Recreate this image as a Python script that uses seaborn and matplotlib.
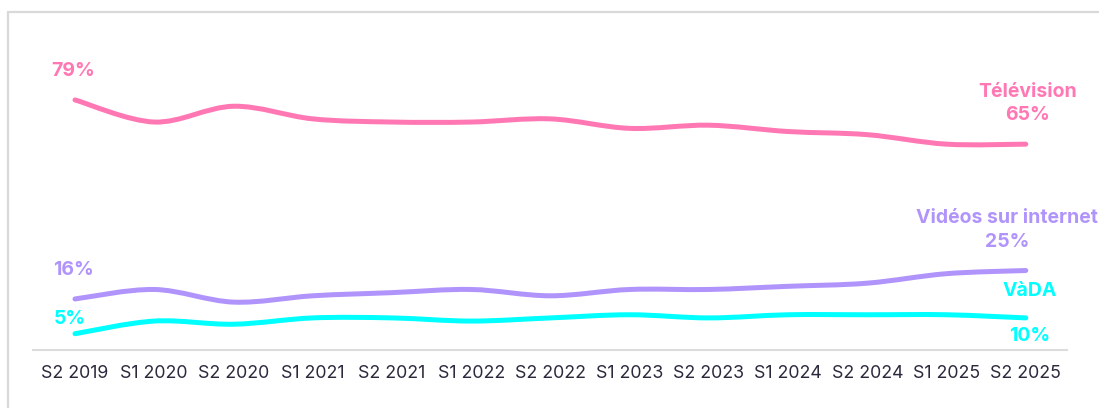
import numpy as np
import pandas as pd
import matplotlib
matplotlib.use('Agg')
import matplotlib.pyplot as plt
import seaborn as sb
from matplotlib.path import Path
from matplotlib.patches import PathPatch, Rectangle

# Data (share in %)
periods = ['S2 2019', 'S1 2020', 'S2 2020', 'S1 2021', 'S2 2021', 'S1 2022', 'S2 2022',
           'S1 2023', 'S2 2023', 'S1 2024', 'S2 2024', 'S1 2025', 'S2 2025']
television = [79, 72, 77, 73, 72, 72, 73, 70, 71, 69, 68, 65, 65]
videosInternet = [16, 19, 15, 17, 18, 19, 17, 19, 19, 20, 21, 24, 25]
vada = [5, 9, 8, 10, 10, 9, 10, 11, 10, 11, 11, 11, 10]

seriesNames = ['Télévision', 'Vidéos sur internet', 'VàDA']
seriesColors = ['#ff78b4', '#b094fb', '#00ffff']

df = pd.DataFrame({'period': periods, 'Télévision': television,
                   'Vidéos sur internet': videosInternet, 'VàDA': vada})
df['idx'] = np.arange(len(periods))

sb.set_theme(style='white')
plt.rcParams['font.family'] = ['Inter', 'DejaVu Sans']

fig = plt.figure(figsize=(10.99, 4.08), dpi=100)
ax = fig.add_axes([33 / 1099, 1 - 349.5 / 408, (1067 - 33) / 1099, (349.5 - 20) / 408])

# Light grey frame around the card (runs off the right and bottom edge)
fig.add_artist(Rectangle((8 / 1099, -0.2), 1.2, 1.2 - 12 / 408, transform=fig.transFigure,
                         fill=False, edgecolor='#d9d9d9', linewidth=1.6))


# Turn a seaborn polyline into a smooth curve (Catmull-Rom -> cubic Bezier)
def smoothLine(line):
    xs, ys = line.get_xdata(), line.get_ydata()
    pts = np.column_stack([xs, ys]).astype(float)
    padded = np.vstack([pts[0], pts, pts[-1]])
    verts = [pts[0]]
    codes = [Path.MOVETO]
    for i in range(len(pts) - 1):
        p0, p1, p2, p3 = padded[i], padded[i + 1], padded[i + 2], padded[i + 3]
        c1 = p1 + (p2 - p0) / 6
        c2 = p2 - (p3 - p1) / 6
        verts += [c1, c2, p2]
        codes += [Path.CURVE4] * 3
    patch = PathPatch(Path(verts, codes), fill=False, edgecolor=line.get_color(),
                      linewidth=line.get_linewidth(), capstyle='round', joinstyle='round')
    ax.add_patch(patch)
    line.set_visible(False)


for name, color in zip(seriesNames, seriesColors):
    sb.lineplot(data=df, x='idx', y=name, ax=ax, color=color, linewidth=3.6)
    smoothLine(ax.lines[-1])

ax.set_xlim(-0.53, 12.52)
ax.set_ylim(0, 104.3)
ax.set_xticks(df['idx'])
ax.set_xticklabels(periods)
ax.set_yticks([])
ax.set_xlabel('')
ax.set_ylabel('')
for side in ['top', 'left', 'right']:
    ax.spines[side].set_visible(False)
ax.spines['bottom'].set_color('#dcdcdc')
ax.spines['bottom'].set_linewidth(1.5)
ax.tick_params(axis='x', length=0, pad=11, labelsize=12.8, labelcolor='#2b2a3d')


def label(i, value, text, color, dx, dy):
    ax.annotate(text, xy=(i, value), xytext=(dx, dy), textcoords='offset pixels',
                ha='center', va='center', color=color, fontsize=14, fontweight='bold')


last = len(periods) - 1
label(0, television[0], f'{television[0]}%', seriesColors[0], -2, 29)
label(0, videosInternet[0], f'{videosInternet[0]}%', seriesColors[1], -2, 29)
label(0, vada[0], f'{vada[0]}%', seriesColors[2], -5, 15)

label(last, television[last], 'Télévision', seriesColors[0], 2, 52)
label(last, television[last], f'{television[last]}%', seriesColors[0], 2, 29)
label(last, videosInternet[last], 'Vidéos sur internet', seriesColors[1], -19, 53)
label(last, videosInternet[last], f'{videosInternet[last]}%', seriesColors[1], -19, 29)
label(last, vada[last], 'VàDA', seriesColors[2], 4, 27)
label(last, vada[last], f'{vada[last]}%', seriesColors[2], 4, -18)

fig.savefig('out.png', dpi=100)
